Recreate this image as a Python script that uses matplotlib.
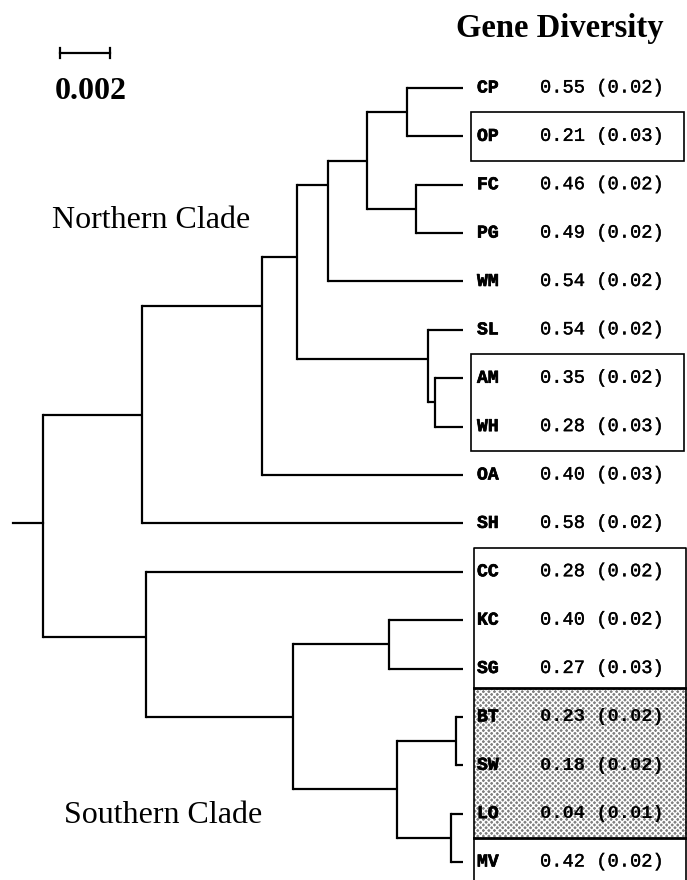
import matplotlib
matplotlib.use('Agg')
import matplotlib.pyplot as plt
import matplotlib.patheffects as pe
from matplotlib.patches import Rectangle

# tips, top to bottom
taxa = ['CP', 'OP', 'FC', 'PG', 'WM', 'SL', 'AM', 'WH', 'OA', 'SH',
        'CC', 'KC', 'SG', 'BT', 'SW', 'LO', 'MV']
diversity = [0.55, 0.21, 0.46, 0.49, 0.54, 0.54, 0.35, 0.28, 0.40, 0.58,
             0.28, 0.40, 0.27, 0.23, 0.18, 0.04, 0.42]
diversity_se = [0.02, 0.03, 0.02, 0.02, 0.02, 0.02, 0.02, 0.03, 0.03, 0.02,
                0.02, 0.02, 0.03, 0.02, 0.02, 0.01, 0.02]

# internal nodes: children, distance from root, row where the parent branch joins
node_names = ['root', 'north', 'n262', 'n298', 'n328', 'n367', 'cp_op', 'fc_pg',
              'sl_amwh', 'am_wh', 'south', 'n293', 'kc_sg', 'n397', 'bt_sw', 'lo_mv']
node_children = [['north', 'south'], ['n262', 'SH'], ['n298', 'OA'],
                 ['n328', 'sl_amwh'], ['n367', 'WM'], ['cp_op', 'fc_pg'],
                 ['CP', 'OP'], ['FC', 'PG'], ['SL', 'am_wh'], ['AM', 'WH'],
                 ['CC', 'n293'], ['kc_sg', 'n397'], ['KC', 'SG'],
                 ['bt_sw', 'lo_mv'], ['BT', 'SW'], ['LO', 'MV']]
node_depth = [0.0, 0.00396, 0.00876, 0.01016, 0.0114, 0.01296, 0.01456, 0.01492,
              0.0154, 0.01568, 0.00414, 0.0100, 0.01384, 0.01416, 0.01652, 0.01632]
node_row = [9.0, 6.75, 4.5, 3.5, 2.0, 1.5, 0.5, 2.5,
            5.6, 6.5, 11.35, 13.0, 11.5, 14.5, 13.5, 15.5]
tip_depth = 0.0168
root_stub = 0.0012
scale_len = 0.002

boxed = ['OP', 'AM', 'WH']
stippled = ['BT', 'SW', 'LO']
south_start = 'CC'

row_of = {t: i for i, t in enumerate(taxa)}
depth_of = {t: tip_depth for t in taxa}
for n, d, r in zip(node_names, node_depth, node_row):
    row_of[n] = r
    depth_of[n] = d

fig = plt.figure(figsize=(6.87, 8.80), dpi=100)
ax = fig.add_axes([0, 0, 1, 1])
ax.set_xlim(-0.00172, 0.02576)
ax.set_ylim(16.372, -1.819)
ax.axis('off')

lw = 1.6
# tree
for n, kids, d in zip(node_names, node_children, node_depth):
    rows = [row_of[k] for k in kids]
    ax.plot([d, d], [min(rows), max(rows)], color='black', lw=lw,
            solid_capstyle='projecting')
    for k in kids:
        ax.plot([d, depth_of[k]], [row_of[k], row_of[k]], color='black', lw=lw,
                solid_capstyle='butt')
ax.plot([-root_stub, 0], [row_of['root']] * 2, color='black', lw=lw)

# labels and gene diversity
lab_x = tip_depth + 0.00056
val_x = tip_depth + 0.00308
thick = [pe.withStroke(linewidth=0.25, foreground='black')]
heavy = [pe.withStroke(linewidth=0.5, foreground='black')]
for i, (t, v, se) in enumerate(zip(taxa, diversity, diversity_se)):
    ax.text(lab_x, i, t, family='Liberation Mono', weight='bold', fontsize=13,
            va='center', ha='left', path_effects=heavy)
    if t in stippled:
        ax.text(val_x, i, f'{v:.2f} ({se:.2f})', family='Liberation Mono',
                weight='bold', fontsize=13.5, va='center', ha='left')
    else:
        ax.text(val_x, i, f'{v:.2f} ({se:.2f})', family='Liberation Mono',
                fontsize=13.5, va='center', ha='left', path_effects=thick)

# boxes
box_l = tip_depth + 0.00032
box_r = 0.02564
ax.add_patch(Rectangle((box_l, row_of['OP'] - 0.5), box_r - box_l, 1.0,
                       fill=False, lw=1.2, ec='black'))
ax.add_patch(Rectangle((box_l, row_of['AM'] - 0.5), box_r - box_l, 2.0,
                       fill=False, lw=1.2, ec='black'))
s0 = row_of[south_start] - 0.5
st0 = row_of[stippled[0]] - 0.6
st1 = row_of[stippled[-1]] + 0.5
ax.add_patch(Rectangle((box_l + 0.00012, st0), box_r - box_l, st1 - st0,
                       facecolor='#808080', edgecolor='white', hatch='xxxxxx',
                       lw=0, zorder=0.5))
ax.plot([box_l + 0.00012, box_l + 0.00012, box_r + 0.00008, box_r + 0.00008],
        [17, s0, s0, 17], color='black', lw=1.2)
for yy in (st0, st1):
    ax.plot([box_l + 0.00012, box_r + 0.00008], [yy, yy], color='black', lw=2.0)

# scale bar
sb_x0, sb_y = 0.00068, -0.72
ax.plot([sb_x0, sb_x0 + scale_len], [sb_y, sb_y], color='black', lw=1.6)
for xx in (sb_x0, sb_x0 + scale_len):
    ax.plot([xx, xx], [sb_y - 0.1, sb_y + 0.1], color='black', lw=1.6)
ax.text(sb_x0 - 0.0002, 0.08, '0.002', family='Liberation Serif', weight='bold',
        fontsize=23, va='center', ha='left')

ax.text(0.664, 0.968, 'Gene Diversity', transform=ax.transAxes,
        family='Liberation Serif', weight='bold', fontsize=23.5, va='center', ha='left')
ax.text(0.00036, 2.73, 'Northern Clade', family='Liberation Serif', fontsize=23,
        va='center', ha='left')
ax.text(0.00084, 15.03, 'Southern Clade', family='Liberation Serif', fontsize=23,
        va='center', ha='left')

fig.savefig('out.png', dpi=100, facecolor='white')
